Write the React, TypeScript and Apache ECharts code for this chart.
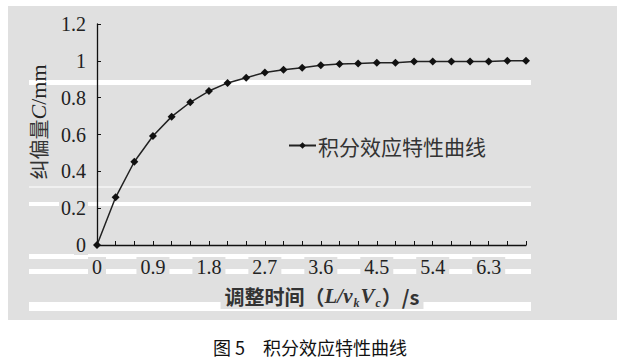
import React, { useEffect, useRef } from "react";
import * as echarts from "echarts";

const tLabels = [
  "0", "0.3", "0.6", "0.9", "1.2", "1.5", "1.8", "2.1", "2.4", "2.7", "3.0", "3.3",
  "3.6", "3.9", "4.2", "4.5", "4.8", "5.1", "5.4", "5.7", "6.0", "6.3", "6.6", "6.9",
];
const cValues = [
  0, 0.259, 0.452, 0.592, 0.697, 0.775, 0.836, 0.88, 0.908, 0.937, 0.952, 0.963,
  0.976, 0.983, 0.986, 0.99, 0.99, 0.997, 0.997, 0.997, 0.997, 0.997, 1.0, 1.0,
];
const seriesName = "积分效应特性曲线";
const caption = "图 5\u3000积分效应特性曲线";

const GRAY = "#e0e0e0";
const SERIF = "'Liberation Serif', 'Noto Sans CJK SC', serif";
const CJK = "'Noto Sans CJK SC', 'Liberation Serif', sans-serif";

const stripes = [
  [80, 5],
  [186.5, 1],
  [202, 4],
  [254, 5],
  [269, 5],
  [302, 9],
];

export default function App() {
  const ref = useRef<HTMLDivElement>(null);
  useEffect(() => {
    if (!ref.current) return;
    const chart = echarts.init(ref.current, null, { renderer: "svg" });
    const graphics: any[] = [
      { type: "rect", z: -10, shape: { x: 8, y: 6, width: 609, height: 314 }, style: { fill: GRAY } },
      ...stripes.map(([y, h]) => ({
        type: "rect",
        z: -9,
        shape: { x: 29, y, width: 502, height: h },
        style: { fill: "#ffffff" },
      })),
      {
        type: "text",
        z: 10,
        x: 38,
        y: 122,
        rotation: Math.PI / 2,
        style: {
          text: "{a|纠偏量}{i|C}{m|/mm}",
          align: "center",
          verticalAlign: "middle",
          fill: "#222",
          rich: {
            a: { fontFamily: CJK, fontSize: 20, fill: "#333" },
            i: { fontFamily: "Liberation Serif", fontSize: 22, fontStyle: "italic", fill: "#222" },
            m: { fontFamily: "Liberation Serif", fontSize: 22, fill: "#222" },
          },
        },
      },
      {
        type: "text",
        z: 10,
        x: 322,
        y: 296,
        style: {
          text: "{b|调整时间（}{i|L/v}{s|k}{i|V}{s|c}{b|）/s}",
          align: "center",
          verticalAlign: "middle",
          backgroundColor: GRAY,
          padding: [0, 4],
          rich: {
            b: { fontFamily: CJK, fontSize: 20, fontWeight: "bold", fill: "#333" },
            i: { fontFamily: "Liberation Serif", fontSize: 21, fontWeight: "bold", fontStyle: "italic", fill: "#333" },
            s: { fontFamily: "Liberation Serif", fontSize: 12, fontWeight: "bold", fontStyle: "italic", fill: "#333", padding: [14, 1, 0, 1] },
          },
        },
      },
      {
        type: "text",
        z: 10,
        x: 310,
        y: 347,
        style: {
          text: caption,
          align: "center",
          verticalAlign: "middle",
          fontFamily: CJK,
          fontSize: 18,
          fill: "#111",
        },
      },
    ];
    chart.setOption({
      animation: false,
      grid: { left: 97, right: 101, top: 24, bottom: 117, containLabel: false },
      legend: {
        left: 283,
        top: 130,
        itemWidth: 27,
        itemHeight: 8,
        itemGap: 5,
        textStyle: { fontFamily: CJK, fontSize: 21, color: "#333", padding: [0, 0, 0, -3] },
        data: [seriesName],
      },
      xAxis: {
        type: "category",
        data: tLabels,
        boundaryGap: false,
        axisLine: { lineStyle: { color: "#111", width: 1.3 } },
        axisTick: { inside: true, length: 4, interval: 0, lineStyle: { color: "#111" } },
        axisLabel: {
          interval: 2,
          margin: 12,
          fontFamily: SERIF,
          fontSize: 20,
          color: "#222",
          backgroundColor: GRAY,
          padding: [0, 4],
        },
        splitLine: { show: false },
      },
      yAxis: {
        type: "value",
        min: 0,
        max: 1.2,
        interval: 0.2,
        axisLine: { show: true, lineStyle: { color: "#111", width: 1.3 } },
        axisTick: { show: true, inside: true, length: 4, lineStyle: { color: "#111" } },
        axisLabel: {
          margin: 9,
          fontFamily: SERIF,
          fontSize: 20,
          color: "#222",
          backgroundColor: GRAY,
          padding: [0, 2],
          formatter: (v: number) => String(+v.toFixed(1)),
        },
        splitLine: { show: false },
      },
      series: [
        {
          name: seriesName,
          type: "line",
          data: cValues,
          symbol: "diamond",
          symbolSize: 8,
          itemStyle: { color: "#111" },
          lineStyle: { color: "#222", width: 1.5 },
        },
      ],
      graphic: { elements: graphics },
    });
    return () => chart.dispose();
  }, []);
  return (
    <div
      ref={ref}
      style={{ position: "absolute", left: 0, top: 0, width: 627, height: 362, background: "#fff" }}
    />
  );
}
